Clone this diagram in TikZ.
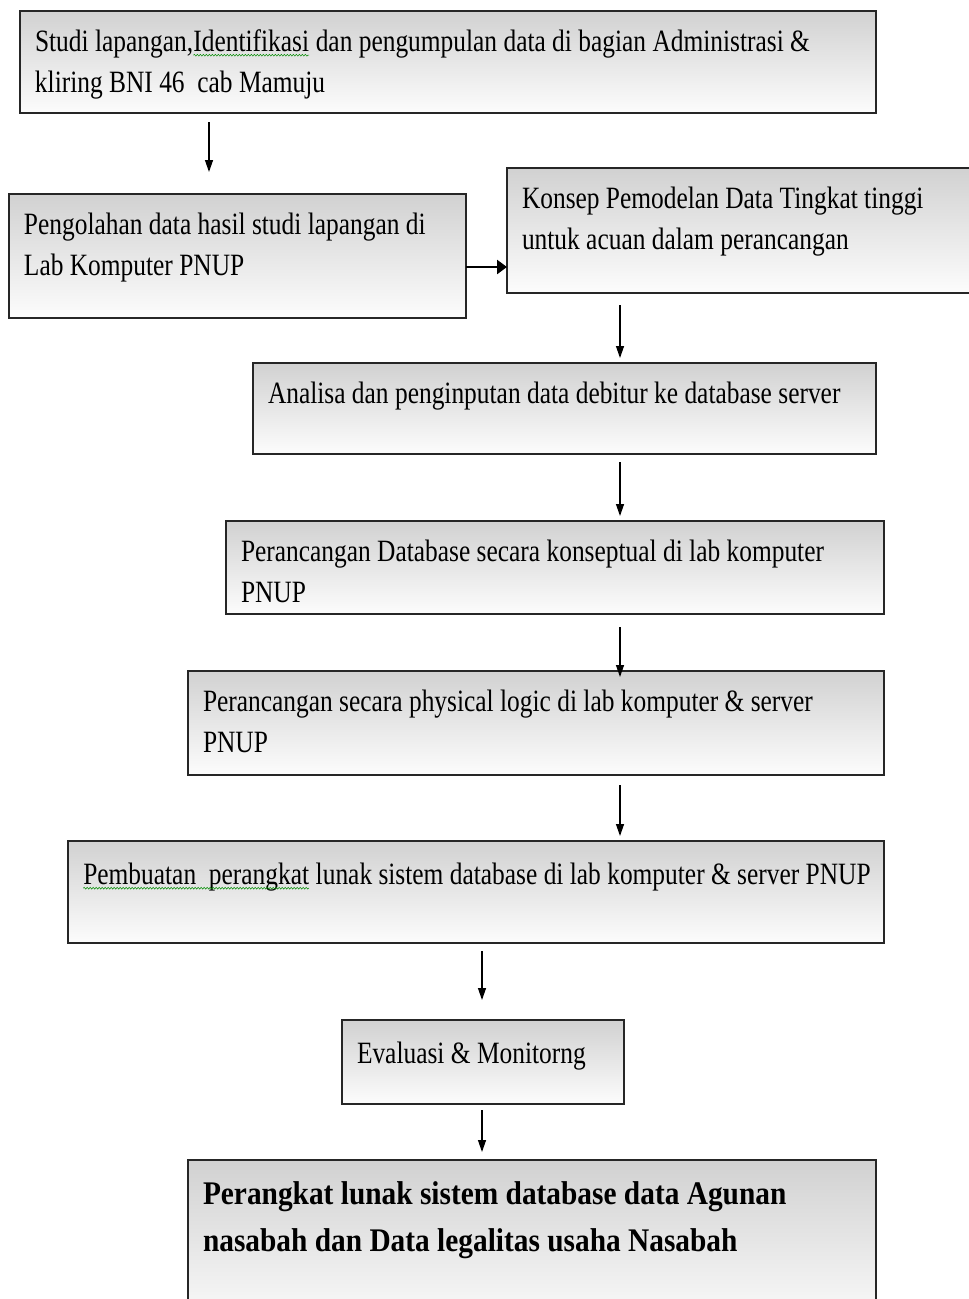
\documentclass[tikz,border=0pt]{standalone}
\usepackage{fontspec}
\setmainfont{Liberation Serif}
\newfontfamily\cond[FakeStretch=0.82]{Liberation Serif}
\newfontfamily\condb[FakeStretch=0.89]{Liberation Serif}
\usetikzlibrary{arrows.meta,calc,decorations.pathmorphing}
\newcommand\boxtxt[4]{\parbox[t][#2pt][t]{#1pt}{\parindent=0pt\leftskip=15pt\rightskip=0pt plus 1fil\vspace*{#3pt}\strut#4}}
\newcommand\squig[1]{\tikz[baseline=(sq.base)]{\node[inner sep=0pt,outer sep=0pt](sq){#1};\draw[green!55!black,line width=0.5pt,decorate,decoration={snake,amplitude=0.9pt,segment length=3pt}]([yshift=-3.5pt]sq.base west)--([yshift=-3.5pt]sq.base east);}}
\tikzset{
  bx/.style={draw=black!85,line width=1.8pt,anchor=north west,inner sep=0pt,outer sep=0pt,
    top color=black!18,bottom color=black!1,font=\cond\fontsize{31}{41}\selectfont},
  arr/.style={line width=1.3pt,-{Triangle[length=12pt,width=8pt]}},
}
\begin{document}
\begin{tikzpicture}[x=1pt,y=-1pt]
\useasboundingbox (0,0) rectangle (969,1299);
\clip (0,0) rectangle (969,1299);
\node[bx] (b1) at (20,11) {\boxtxt{856}{102}{12}{Studi lapangan,\squig{Identifikasi} dan pengumpulan data di bagian Administrasi \&\\kliring BNI 46\ \ cab Mamuju}};
\node[bx] (b2) at (9,194) {\boxtxt{457}{124}{12}{Pengolahan data hasil studi lapangan di\\Lab Komputer PNUP}};
\node[bx] (b3) at (507,168) {\boxtxt{475}{125}{12}{Konsep Pemodelan Data Tingkat tinggi\\untuk acuan dalam perancangan}};
\node[bx] (b4) at (253,363) {\boxtxt{623}{91}{12}{Analisa dan penginputan data debitur ke database server}};
\node[bx] (b5) at (226,521) {\boxtxt{658}{93}{12}{Perancangan Database secara konseptual di lab komputer\\PNUP}};
\node[bx] (b6) at (188,671) {\boxtxt{696}{104}{12}{Perancangan secara physical logic di lab komputer \& server\\PNUP}};
\node[bx] (b7) at (68,841) {\boxtxt{816}{102}{15}{\squig{Pembuatan\ \ perangkat} lunak sistem database di lab komputer \& server PNUP}};
\node[bx] (b8) at (342,1020) {\boxtxt{282}{84}{15}{Evaluasi \& Monitorng}};
\node[bx,font=\condb\bfseries\fontsize{33}{47}\selectfont] (b9) at (188,1160) {\boxtxt{688}{170}{12}{Perangkat lunak sistem database data Agunan\\nasabah dan Data legalitas usaha Nasabah}};
\draw[arr] ($(b1.south west)+(189,9)$) -- ($(b2.north west)+(200,-22)$);
\draw[arr,line width=2.6pt,-{Triangle[length=10pt,width=14pt]}] ($(b2.north east)+(0,73)$) -- ($(b3.north west)+(0,99)$);
\draw[arr] ($(b3.south west)+(113,12)$) -- ($(b4.north west)+(367,-5)$);
\draw[arr] ($(b4.south west)+(367,8)$) -- ($(b5.north west)+(394,-5)$);
\draw[arr] ($(b5.south west)+(394,13)$) -- ($(b6.north west)+(432,6)$);
\draw[arr] ($(b6.south west)+(432,10)$) -- ($(b7.north west)+(552,-5)$);
\draw[arr] ($(b7.south west)+(414,8)$) -- ($(b8.north west)+(140,-20)$);
\draw[arr] ($(b8.south west)+(140,6)$) -- ($(b9.north west)+(294,-8)$);
\end{tikzpicture}
\end{document}
